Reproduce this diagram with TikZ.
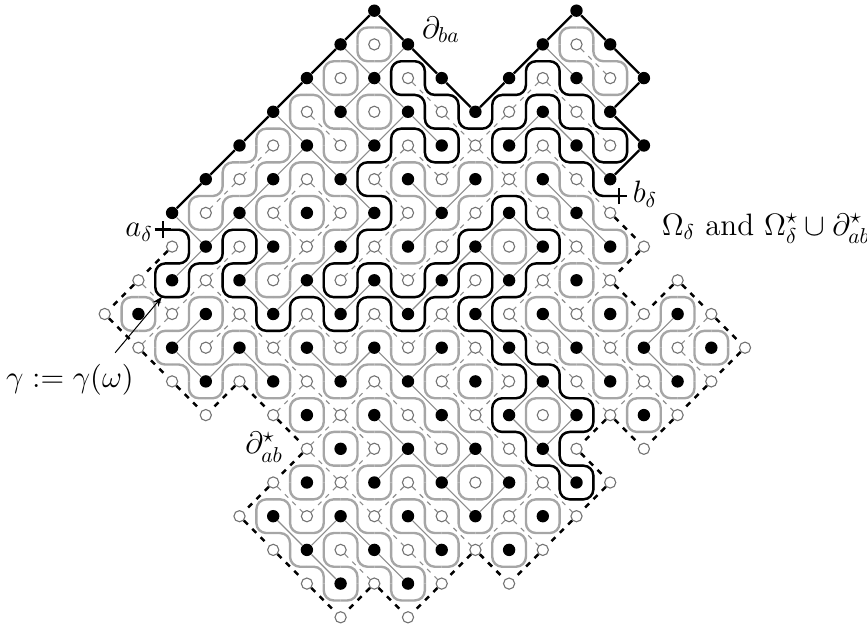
\documentclass[tikz,border=0pt]{standalone}
\usepackage{amsmath}
\usepackage{xcolor}
\usepackage{tikz}
\usetikzlibrary{arrows.meta,shapes.misc}

\colorlet{loopgray}{black!35}
\colorlet{edgegray}{black!45}
\tikzset{
  loopline/.style={line width=1.2pt, color=loopgray, rounded corners=5pt},
  gammaline/.style={line width=1.2pt, color=black, rounded corners=5pt},
  primaledge/.style={line width=0.55pt, color=edgegray},
  dualedge/.style={line width=0.55pt, color=edgegray, dash pattern=on 2.4pt off 2.83pt},
  wirededge/.style={line width=1.15pt, color=black},
  freeedge/.style={line width=1.25pt, color=black, dash pattern=on 2.8pt off 3.1pt},
  blackdot/.style={circle, fill=black, inner sep=0pt, minimum size=6.2pt},
  whitedot/.style={circle, draw=black!55, fill=white, line width=0.55pt, inner sep=0pt, minimum size=5.6pt},
  plusmark/.style={cross out, rotate=45, draw=black, line width=1.25pt, inner sep=0pt, minimum size=4.6pt},
  lab/.style={font=\Large, scale=1.075, inner sep=0pt}
}
\newcommand{\cornerNE}{\draw[loopline] (\col+.5,\row) -- (\col+.5,\row+.5) -- (\col+1,\row+.5);}
\newcommand{\cornerSW}{\draw[loopline] (\col,\row+.5) -- (\col+.5,\row+.5) -- (\col+.5,\row+1);}
\newcommand{\cornerNW}{\draw[loopline] (\col+.5,\row) -- (\col+.5,\row+.5) -- (\col,\row+.5);}
\newcommand{\cornerSE}{\draw[loopline] (\col+1,\row+.5) -- (\col+.5,\row+.5) -- (\col+.5,\row+1);}

\begin{document}
\begin{tikzpicture}[x=16.85pt, y=-16.85pt]
\useasboundingbox (-11.107,-0.3175) rectangle (14.62,18.228);
% lattice points, row/first/last
\foreach \row/\first/\last in {0/0/0, 0/6/6, 1/-1/1, 1/5/7, 2/-2/2, 2/4/8, 3/-3/7, 4/-4/8, 5/-5/7, 6/-6/7, 7/-6/8, 8/-7/7, 8/9/9, 9/-8/10, 10/-7/11, 11/-6/10, 12/-5/-5, 12/-3/9, 13/-2/6, 13/8/8, 14/-3/7, 15/-4/6, 16/-3/5, 17/-2/2, 17/4/4, 18/-1/-1, 18/1/1} {
  \foreach \col in {\first,...,\last} {
    \ifodd\numexpr\col+\row\relax \def\dotstyle{whitedot}\else \def\dotstyle{blackdot}\fi
    \node[\dotstyle] (v\col-\row) at (\col,\row) {};
  }
}
% sites: 1 = \ both corners, 2 = / both corners, 3,4 = \ with NE or SW only, 5,6 = / with NW or SE only
\foreach \row/\first/\kinds in {
  0/-1/{6,4}, 0/5/{6,4},
  1/-2/{6,1,2,4}, 1/4/{6,1,1,4},
  2/-3/{6,1,2,1,1,4,6,2,1,1,5},
  3/-4/{6,1,1,1,2,1,1,2,2,1,1,4},
  4/-5/{6,2,2,1,2,2,1,2,1,2,1,1,5},
  5/-6/{6,2,2,2,1,1,1,1,2,2,1,1,1},
  6/-6/{1,2,1,1,2,2,2,2,2,2,1,1,1,4},
  7/-7/{6,2,2,2,2,2,2,1,2,2,1,2,2,1,5},
  8/-8/{6,1,2,1,1,2,1,2,1,2,2,2,2,1,2,4,6,4},
  9/-8/{3,2,2,2,1,2,1,2,1,2,1,1,1,1,1,2,2,2,4},
  10/-7/{3,1,2,1,1,1,2,1,2,2,1,1,1,1,1,1,1,5},
  11/-6/{3,5,3,2,1,2,1,1,1,2,2,1,1,2,1,5},
  12/-3/{3,2,1,1,1,1,1,1,2,5,3,5},
  13/-3/{6,1,2,2,1,2,1,1,1,4},
  14/-4/{6,1,2,1,2,1,1,2,2,1,5},
  15/-4/{3,1,2,1,1,1,1,2,1,5},
  16/-3/{3,1,1,1,1,5,3,5},
  17/-2/{3,5,3,5}} {
  \foreach \kind [count=\col from \first] in \kinds {
    \pgfmathtruncatemacro\colb{\col+1}
    \pgfmathtruncatemacro\rowb{\row+1}
    \ifcase\kind\or \cornerNE\cornerSW\def\slant{0}\or \cornerNW\cornerSE\def\slant{1}\or
      \cornerNE\def\slant{0}\or \cornerSW\def\slant{0}\or \cornerNW\def\slant{1}\or \cornerSE\def\slant{1}\fi
    \ifodd\numexpr\col+\row\relax \def\parity{1}\else \def\parity{0}\fi
    \ifnum\slant=\parity
      \ifnum\kind>2 \def\edgestyle{wirededge}\else \def\edgestyle{primaledge}\fi
    \else
      \ifnum\kind>2 \def\edgestyle{freeedge}\else \def\edgestyle{dualedge}\fi
    \fi
    \ifnum\slant=0
      \draw[\edgestyle] (v\col-\row) -- (v\colb-\rowb);
    \else
      \draw[\edgestyle] (v\colb-\row) -- (v\col-\rowb);
    \fi
  }
}
\node[plusmark] (aplus) at (-6.27,6.5) {};
\node[plusmark] (bplus) at (7.26,5.5) {};
% the interface
\draw[gammaline] (aplus.center) -- (-5.5,6.5) -- (-5.5,7.5) -- (-6.5,7.5) -- (-6.5,8.5) -- (-5.5,8.5) -- (-5.5,7.5) -- (-4.5,7.5) -- (-4.5,6.5) -- (-3.5,6.5) -- (-3.5,7.5) -- (-4.5,7.5) -- (-4.5,8.5) -- (-3.5,8.5) -- (-3.5,9.5) -- (-2.5,9.5) -- (-2.5,8.5) -- (-1.5,8.5) -- (-1.5,9.5) -- (-.5,9.5) -- (-.5,8.5) -- (.5,8.5) -- (.5,9.5) -- (1.5,9.5) -- (1.5,8.5) -- (2.5,8.5) -- (2.5,7.5) -- (3.5,7.5) -- (3.5,8.5) -- (2.5,8.5) -- (2.5,9.5) -- (3.5,9.5) -- (3.5,10.5) -- (4.5,10.5) -- (4.5,11.5) -- (3.5,11.5) -- (3.5,12.5) -- (4.5,12.5) -- (4.5,13.5) -- (5.5,13.5) -- (5.5,14.5) -- (6.5,14.5) -- (6.5,13.5) -- (5.5,13.5) -- (5.5,12.5) -- (6.5,12.5) -- (6.5,11.5) -- (5.5,11.5) -- (5.5,10.5) -- (4.5,10.5) -- (4.5,9.5) -- (3.5,9.5) -- (3.5,8.5) -- (4.5,8.5) -- (4.5,7.5) -- (5.5,7.5) -- (5.5,6.5) -- (4.5,6.5) -- (4.5,5.5) -- (3.5,5.5) -- (3.5,6.5) -- (2.5,6.5) -- (2.5,7.5) -- (1.5,7.5) -- (1.5,8.5) -- (.5,8.5) -- (.5,7.5) -- (-.5,7.5) -- (-.5,8.5) -- (-1.5,8.5) -- (-1.5,7.5) -- (-.5,7.5) -- (-.5,6.5) -- (.5,6.5) -- (.5,5.5) -- (-.5,5.5) -- (-.5,4.5) -- (.5,4.5) -- (.5,3.5) -- (1.5,3.5) -- (1.5,4.5) -- (2.5,4.5) -- (2.5,3.5) -- (1.5,3.5) -- (1.5,2.5) -- (.5,2.5) -- (.5,1.5) -- (1.5,1.5) -- (1.5,2.5) -- (2.5,2.5) -- (2.5,3.5) -- (3.5,3.5) -- (3.5,2.5) -- (4.5,2.5) -- (4.5,1.5) -- (5.5,1.5) -- (5.5,2.5) -- (6.5,2.5) -- (6.5,3.5) -- (7.5,3.5) -- (7.5,4.5) -- (6.5,4.5) -- (6.5,3.5) -- (5.5,3.5) -- (5.5,2.5) -- (4.5,2.5) -- (4.5,3.5) -- (3.5,3.5) -- (3.5,4.5) -- (4.5,4.5) -- (4.5,3.5) -- (5.5,3.5) -- (5.5,4.5) -- (6.5,4.5) -- (6.5,5.5) -- (bplus.center);
% labels
\node[lab] (toplab) at (1.98,0.57) {$\partial_{ba}$};
\node[lab] (blab) at (8.03,5.44) {$b_\delta$};
\node[lab] (alab) at (-6.98,6.57) {$a_\delta$};
\node[lab] (domlab) at (11.62,6.47) {$\Omega_\delta$ and $\Omega_\delta^\star\cup\partial_{ab}^\star$};
\node[lab] (gammalab) at (-9.03,10.96) {$\gamma:=\gamma(\omega)$};
\node[lab] (duallab) at (-3.27,12.95) {$\partial_{ab}^\star$};
\coordinate (gammafoot) at (-7.69,10.15);
\coordinate (gammatip) at (-6.3,8.49);
\draw[-{Stealth[length=5pt,width=3.6pt]}, line width=0.5pt] (gammafoot) -- (gammatip);
\end{tikzpicture}
\end{document}
